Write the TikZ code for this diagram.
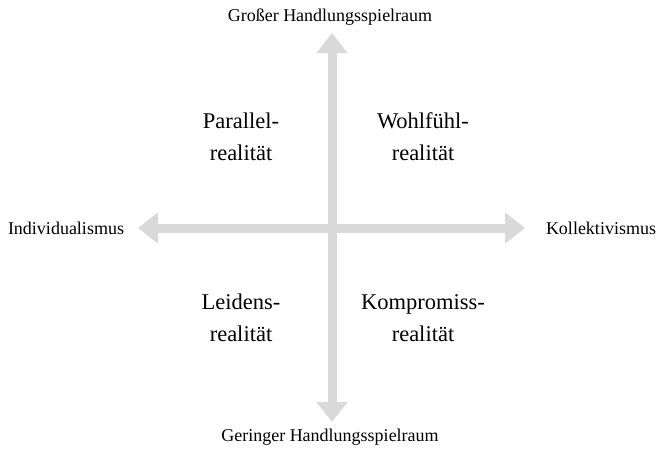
\documentclass[tikz,border=0pt]{standalone}
\usepackage{fontspec}
\setmainfont{Liberation Serif}
\usetikzlibrary{arrows.meta}
\definecolor{axisgray}{HTML}{D9D9D9}
\tikzset{
  axis/.style={draw=axisgray, line width=9pt, {Triangle[width=30pt,length=20pt]}-{Triangle[width=30pt,length=20pt]}},
  axislabel/.style={inner sep=0pt, font=\fontsize{18}{21}\selectfont},
  quadlabel/.style={inner sep=0pt, align=center, font=\fontsize{22.5}{32}\selectfont}
}
\begin{document}
\begin{tikzpicture}[x=1pt,y=-1pt]
\useasboundingbox (0,0) rectangle (659,450);
\coordinate (top) at (332,33);
\coordinate (bot) at (332,422);
\coordinate (left) at (138,228);
\coordinate (right) at (525,228);
\draw[axis] (bot) -- (top);
\draw[axis] (left) -- (right);
\node[axislabel] (gross) at (330,17) {Großer Handlungsspielraum};
\node[axislabel] (gering) at (330,437) {Geringer Handlungsspielraum};
\node[axislabel] (indiv) at (66,228) {Individualismus};
\node[axislabel] (koll) at (601,228) {Kollektivismus};
\node[quadlabel] (par) at (241,137) {Parallel-\\realität};
\node[quadlabel] (wohl) at (423,137) {Wohlfühl-\\realität};
\node[quadlabel] (leid) at (241,318) {Leidens-\\realität};
\node[quadlabel] (komp) at (423,318) {Kompromiss-\\realität};
\end{tikzpicture}
\end{document}
